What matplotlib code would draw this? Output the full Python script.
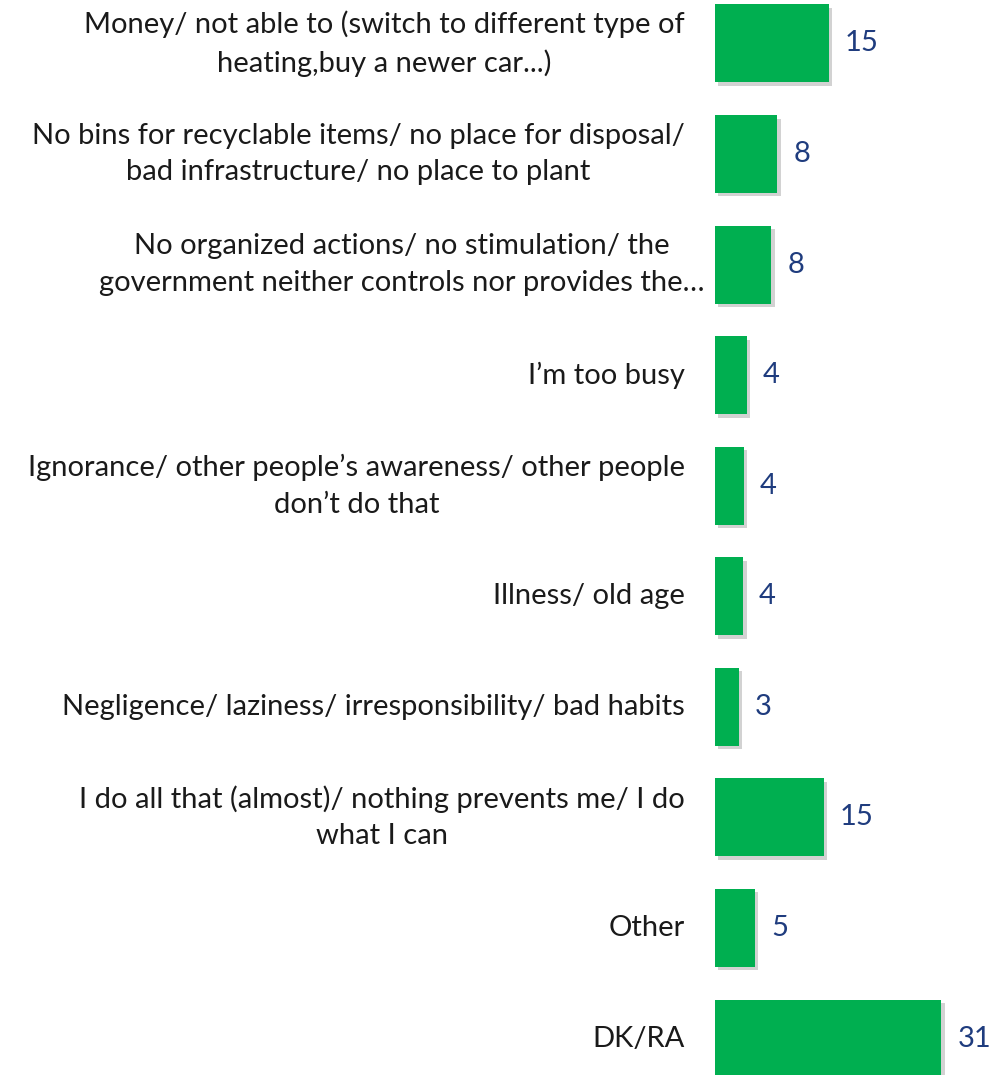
import matplotlib.pyplot as plt
import matplotlib.patheffects as pe

# Reasons (top to bottom) and shares in %
categories = [
    "Money/ not able to (switch to different type of\nheating,buy a newer car...)",
    "No bins for recyclable items/ no place for disposal/\nbad infrastructure/ no place to plant",
    "No organized actions/ no stimulation/ the\ngovernment neither controls nor provides the\u2026",
    "I\u2019m too busy",
    "Ignorance/ other people\u2019s awareness/ other people\ndon\u2019t do that",
    "Illness/ old age",
    "Negligence/ laziness/ irresponsibility/ bad habits",
    "I do all that (almost)/ nothing prevents me/ I do\nwhat I can",
    "Other",
    "DK/RA",
]
values = [15.4, 8.4, 7.6, 4.3, 3.9, 3.8, 3.2, 14.7, 5.4, 30.6]
value_labels = ["15", "8", "8", "4", "4", "4", "3", "15", "5", "31"]

bar_color = "#00AF50"
num_color = "#1F3C7E"
text_color = "#1a1a1a"

plt.rcParams["font.family"] = ["Lato", "DejaVu Sans"]

fig = plt.figure(figsize=(9.95, 10.75), dpi=100)
# axes reach a bit past the figure edges, like the cropped original
ax = fig.add_axes([715 / 995, -0.0175, 259 / 995, 1.0285])

y = list(range(len(categories)))
ax.barh(y, values, height=0.705, color=bar_color,
        path_effects=[pe.SimplePatchShadow(offset=(2.5, -2.5), shadow_rgbFace="#909090", alpha=0.4),
                      pe.Normal()])

ax.set_xlim(0, 35)
ax.set_ylim(len(categories) - 0.5, -0.5)
ax.axis("off")

for i, (cat, v, lab) in enumerate(zip(categories, values, value_labels)):
    off = -7.2 if i == 2 else -21.6
    ax.annotate(cat, xy=(0, i), xytext=(off, 0), textcoords="offset points",
                ha="right", va="center", multialignment="center",
                fontsize=21, color=text_color, linespacing=1.5)
    ax.annotate(lab, xy=(v, i), xytext=(11.5, 0), textcoords="offset points",
                ha="left", va="center", fontsize=21, color=num_color)

fig.savefig("out.png", dpi=100)
